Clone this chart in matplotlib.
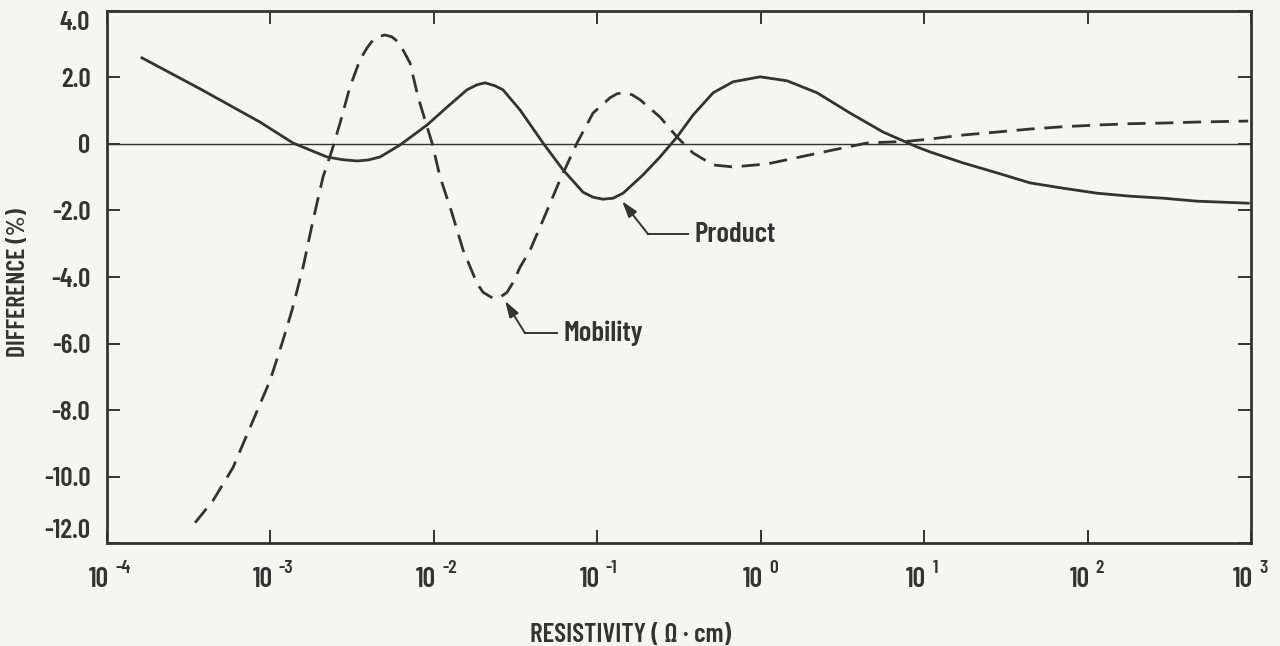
import numpy as np
import matplotlib
matplotlib.use("Agg")
import matplotlib.pyplot as plt

# Difference curves vs resistivity (x given as log10 of resistivity, ohm*cm)
product_log_rho = [-3.786, -3.431, -3.064, -2.862, -2.654, -2.560, -2.470, -2.400,
                   -2.329, -2.207, -2.042, -1.919, -1.797, -1.736, -1.687, -1.626,
                   -1.577, -1.472, -1.332, -1.209, -1.087, -1.026, -0.965, -0.903,
                   -0.842, -0.720, -0.616, -0.512, -0.414, -0.291, -0.169, -0.004,
                   0.162, 0.345, 0.547, 0.749, 0.957, 1.037, 1.239, 1.447,
                   1.649, 1.851, 2.059, 2.261, 2.463, 2.671, 2.983]
product_diff = [2.59, 1.66, 0.66, 0.03, -0.39, -0.47, -0.51, -0.48,
                -0.39, -0.03, 0.57, 1.11, 1.63, 1.78, 1.84, 1.75,
                1.63, 1.02, 0.03, -0.78, -1.45, -1.60, -1.66, -1.63,
                -1.48, -0.93, -0.39, 0.21, 0.87, 1.54, 1.87, 2.02,
                1.90, 1.54, 0.93, 0.36, -0.09, -0.24, -0.57, -0.87,
                -1.17, -1.33, -1.48, -1.57, -1.63, -1.72, -1.78]

mobility_log_rho = [-3.461, -3.351, -3.229, -3.106, -3.002, -2.923, -2.868, -2.800,
                    -2.739, -2.678, -2.623, -2.574, -2.513, -2.452, -2.409, -2.372,
                    -2.341, -2.299, -2.256, -2.219, -2.189, -2.146, -2.097, -2.054,
                    -2.011, -1.962, -1.889, -1.821, -1.736, -1.699, -1.638, -1.595,
                    -1.552, -1.515, -1.472, -1.411, -1.332, -1.228, -1.124, -1.026,
                    -0.922, -0.879, -0.842, -0.787, -0.738, -0.616, -0.512, -0.414,
                    -0.291, -0.169, 0.039, 0.241, 0.443, 0.651, 0.896, 1.037,
                    1.239, 1.447, 1.649, 1.851, 2.059, 2.261, 2.463, 2.671, 2.983]
mobility_diff = [-11.39, -10.72, -9.73, -8.31, -7.11, -5.90, -5.00, -3.70,
                 -2.29, -0.99, -0.18, 0.63, 1.72, 2.53, 2.89, 3.13,
                 3.22, 3.28, 3.22, 3.07, 2.83, 2.44, 1.42, 0.72,
                 0.03, -0.99, -2.08, -3.19, -4.19, -4.46, -4.64, -4.61,
                 -4.46, -4.16, -3.70, -3.19, -2.29, -1.08, 0.03, 0.93,
                 1.39, 1.51, 1.54, 1.48, 1.33, 0.81, 0.21, -0.27,
                 -0.63, -0.69, -0.60, -0.39, -0.18, 0.03, 0.08, 0.15,
                 0.27, 0.36, 0.45, 0.52, 0.57, 0.61, 0.63, 0.66, 0.69]

decades = [-4, -3, -2, -1, 0, 1, 2, 3]
y_ticks = [-12, -10, -8, -6, -4, -2, 0, 2, 4]
y_tick_labels = ["-12.0", "-10.0", "-8.0", "-6.0", "-4.0", "-2.0", "0", "2.0", "4.0"]

ink = "#333333"
paper = "#f6f6f0"
plt.rcParams["font.family"] = ["Barlow Condensed", "DejaVu Sans"]
plt.rcParams["font.weight"] = 600

fig = plt.figure(figsize=(12.8, 6.46), dpi=100, facecolor=paper)
ax = fig.add_axes([0.0836, 0.1594, 0.8937, 0.8236], facecolor=paper)

ax.set_xscale("log")
ax.set_xlim(1e-4, 1e3)
ax.set_ylim(-12, 4)

ax.axhline(0, color=ink, lw=1.0, zorder=1)

ax.plot(np.power(10.0, product_log_rho), product_diff, color=ink, lw=2.0,
        solid_joinstyle="round", zorder=3)
ax.plot(np.power(10.0, mobility_log_rho), mobility_diff, color=ink, lw=2.0,
        dashes=(6.5, 3.5), dash_joinstyle="round", zorder=3)

for s in ax.spines.values():
    s.set_color(ink)
    s.set_linewidth(2.0)

ax.set_xticks([10.0 ** d for d in decades])
ax.xaxis.set_minor_locator(matplotlib.ticker.NullLocator())
ax.set_xticklabels([])
ax.set_yticks(y_ticks)
ax.set_yticklabels(y_tick_labels)
ax.tick_params(axis="both", which="major", direction="in", length=9.5, width=1.4,
               color=ink, top=True, right=True)
ax.tick_params(axis="y", pad=12, labelsize=19.5, labelcolor=ink)
ylabels = ax.get_yticklabels()
ylabels[0].set_va("bottom")
ylabels[-1].set_va("top")

# decade labels "10" with raised exponent
for d in decades:
    ax.annotate("10", xy=(10.0 ** d, 0), xycoords=("data", "axes fraction"),
                xytext=(1.5, -26.5), textcoords="offset points",
                ha="right", va="center", fontsize=20, color=ink)
    ax.annotate(str(d), xy=(10.0 ** d, 0), xycoords=("data", "axes fraction"),
                xytext=(6.0, -18), textcoords="offset points",
                ha="left", va="center", fontsize=14, color=ink)

fig.text(631 / 1280, 0.006, "RESISTIVITY ( \u03a9 \u00b7 cm)", ha="center",
         va="baseline", fontsize=19.5, color=ink)
fig.text(19 / 1280, 1 - 283 / 646, "DIFFERENCE (%)", ha="center", va="center",
         rotation=90, fontsize=18.5, color=ink)

# callouts
arrow = dict(arrowstyle="-|>,head_length=0.7,head_width=0.22", color=ink,
             lw=1.4, shrinkA=0, shrinkB=0, mutation_scale=14)
for tip, elbow, end, label in [
        ((10 ** -0.848, -1.72), (10 ** -0.689, -2.71), 10 ** -0.444, "Product"),
        ((10 ** -1.564, -4.72), (10 ** -1.442, -5.69), 10 ** -1.246, "Mobility")]:
    ax.annotate("", xy=tip, xytext=elbow, arrowprops=arrow, zorder=4)
    ax.plot([elbow[0], end], [elbow[1], elbow[1]], color=ink, lw=1.4)
    ax.text(end * 10 ** 0.04, elbow[1], label, ha="left", va="center",
            fontsize=21, color=ink)

fig.savefig("out.png", dpi=100, facecolor=paper)
